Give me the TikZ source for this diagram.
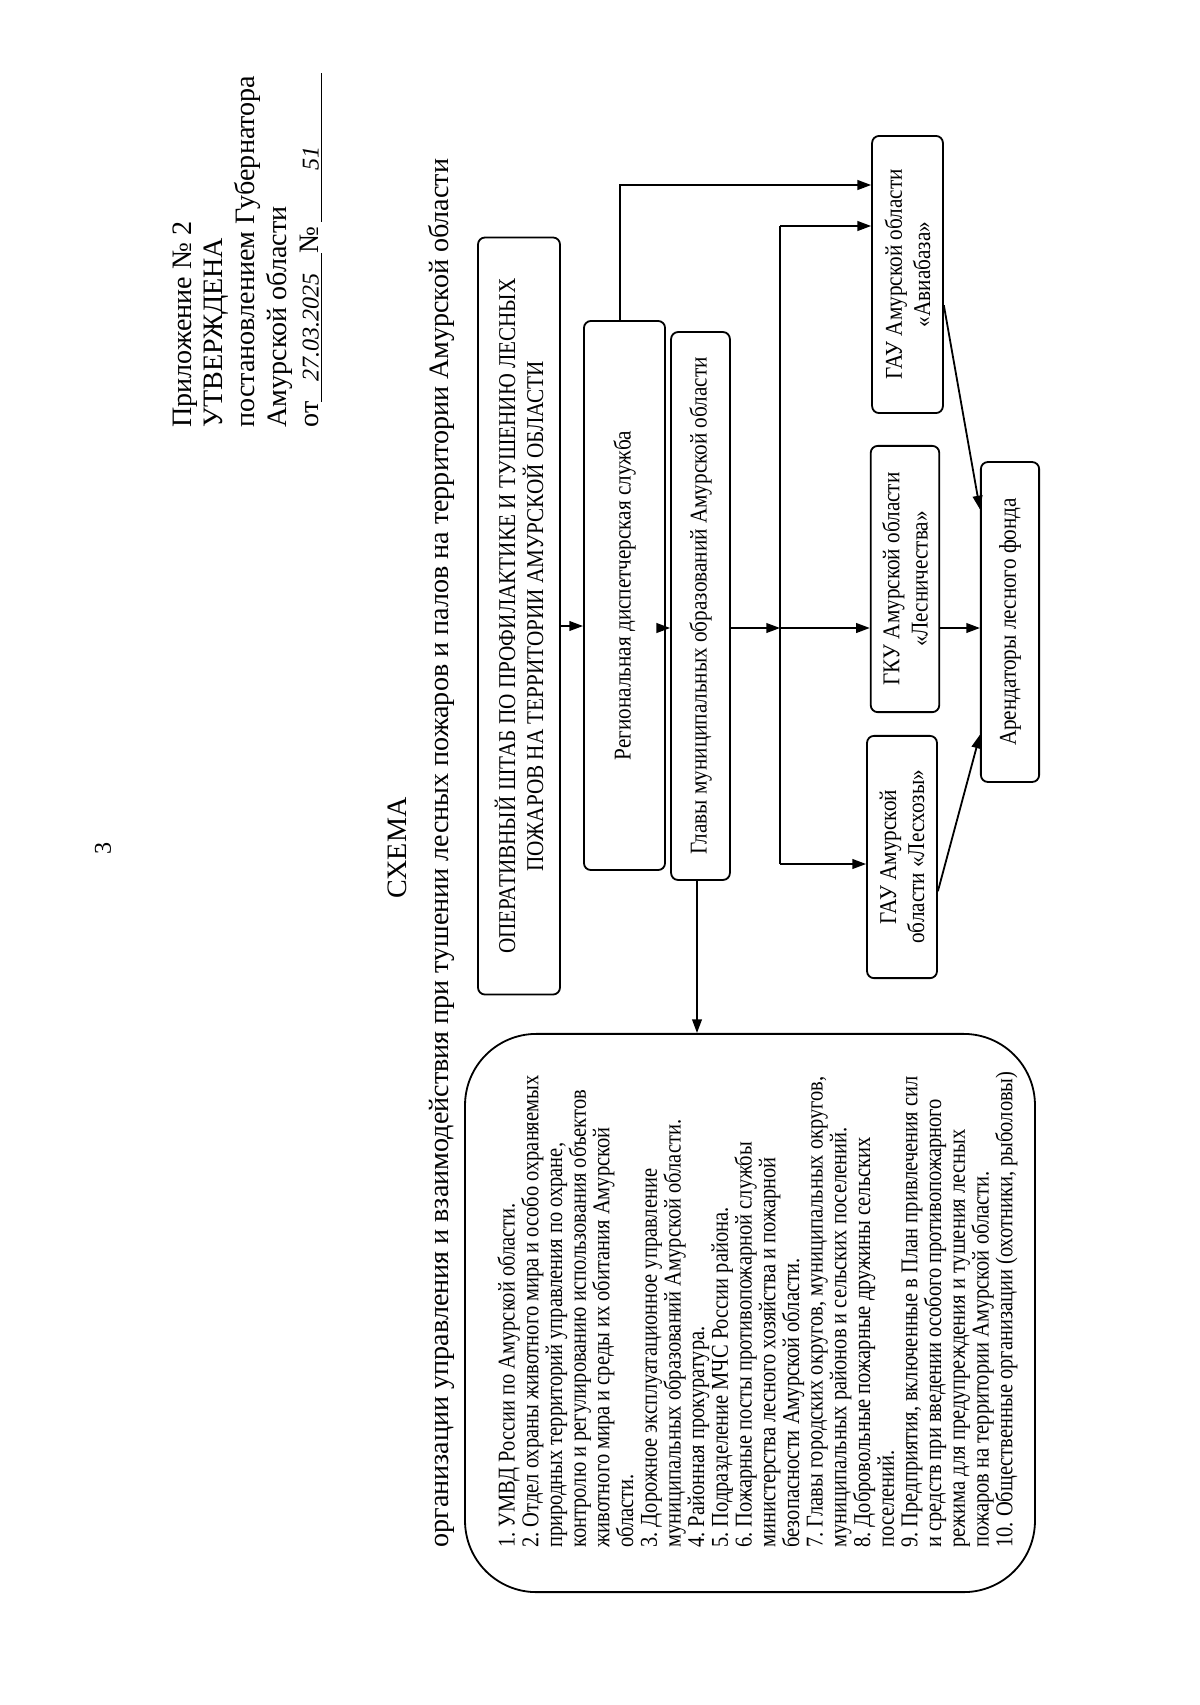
\documentclass[tikz,border=0pt]{standalone}
\usepackage{fontspec}
\setmainfont{Liberation Serif}
\newfontfamily\boxfont[FakeStretch=0.88]{Liberation Serif}
\newfontfamily\listfont[FakeStretch=0.85]{Liberation Serif}
\usetikzlibrary{arrows.meta,calc}
\frenchspacing

\begin{document}
\begin{tikzpicture}[x=0.0175cm,y=-0.0175cm,
    box/.style={draw,rounded corners=3.5pt,line width=0.9pt,rotate=90,align=center,
      inner sep=1pt,font=\boxfont\fontsize{12}{14}\selectfont},
    arr/.style={-{Triangle[length=2.4mm,width=1.7mm]},line width=0.9pt},
    wire/.style={line width=0.9pt}
  ]
  \useasboundingbox (0,0) rectangle (1200,1705);

  % page number and approval stamp
  \node[rotate=90,font=\fontsize{12}{14}\selectfont] (pnum) at (103,848) {3};
  \node[rotate=90,anchor=north west,align=left,inner sep=0pt,
    font=\fontsize{14}{15.9}\selectfont] (appr) at (172,428) {
    Приложение №~2\\
    УТВЕРЖДЕНА\\
    постановлением Губернатора\\
    Амурской области\\
    от\underline{\makebox[2.6cm]{\itshape\large 27.03.2025}}№\,\underline{\makebox[2.6cm][l]{\hspace{0.9cm}\itshape\large 51}}};

  % heading
  \node[rotate=90,font=\fontsize{14}{16}\selectfont] (schema) at (397,848) {СХЕМА};
  \node[rotate=90,font=\fontsize{14}{16}\selectfont] (title) at (441,853)
    {организации управления и взаимодействия при тушении лесных пожаров и палов на территории Амурской области};

  % boxes
  \node[box,minimum width=13.25cm,minimum height=1.435cm] (oper) at (519,616)
    {ОПЕРАТИВНЫЙ ШТАБ ПО ПРОФИЛАКТИКЕ И ТУШЕНИЮ ЛЕСНЫХ\\ПОЖАРОВ НА ТЕРРИТОРИИ АМУРСКОЙ ОБЛАСТИ};
  \node[box,minimum width=9.61cm,minimum height=1.42cm] (reg) at (624.5,595.5)
    {Региональная диспетчерская служба};
  \node[box,minimum width=9.59cm,minimum height=1.03cm] (gl) at (700.5,606)
    {Главы муниципальных образований Амурской области};
  \node[box,minimum width=4.85cm,minimum height=1.24cm] (avia) at (907.5,274.5)
    {ГАУ Амурской области\\«Авиабаза»};
  \node[box,minimum width=4.66cm,minimum height=1.2cm] (les) at (905,579)
    {ГКУ Амурской области\\«Лесничества»};
  \node[box,minimum width=4.24cm,minimum height=1.225cm] (lesh) at (902,857)
    {ГАУ Амурской\\области «Лесхозы»};
  \node[box,minimum width=5.6cm,minimum height=1.02cm] (arend) at (1010,622)
    {Арендаторы лесного фонда};
  \node[box,rounded corners=1.25cm,minimum width=9.77cm,minimum height=9.975cm] (list) at (750,1313) {};
  \node[rotate=90,anchor=north west,align=left,inner sep=0pt,
    font=\listfont\fontsize{12}{11.8}\selectfont] (items) at (497,1548) {
    1. УМВД России по Амурской области.\\
    2. Отдел охраны животного мира и особо охраняемых\\
    природных территорий управления по охране,\\
    контролю и регулированию использования объектов\\
    животного мира и среды их обитания Амурской\\
    области.\\
    3. Дорожное эксплуатационное управление\\
    муниципальных образований Амурской области.\\
    4. Районная прокуратура.\\
    5. Подразделение МЧС России района.\\
    6. Пожарные посты противопожарной службы\\
    министерства лесного хозяйства и пожарной\\
    безопасности Амурской области.\\
    7. Главы городских округов, муниципальных округов,\\
    муниципальных районов и сельских поселений.\\
    8. Добровольные пожарные дружины сельских\\
    поселений.\\
    9. Предприятия, включенные в План привлечения сил\\
    и средств при введении особого противопожарного\\
    режима для предупреждения и тушения лесных\\
    пожаров на территории Амурской области.\\
    10. Общественные организации (охотники, рыболовы)};

  % connectors
  \coordinate (r1) at (0,626);
  \coordinate (r2) at (0,628);
  \coordinate (bus) at (780,0);
  \coordinate (busT) at (780,226);
  \coordinate (busB) at (780,864);
  \coordinate (regup) at (620,185);
  \coordinate (gdown) at (697,0);

  \draw[arr] (oper.south |- r1) -- (reg.north |- r1);
  \draw[arr] (reg.south |- r2) -- (gl.north |- r2);
  \draw[arr] (gl.south |- r2) -- (bus |- r2);
  \draw[arr] (bus |- r2) -- (les.north |- r2);
  \draw[wire] (busT) -- (busB);
  \draw[arr] (busT) -- (avia.north |- busT);
  \draw[arr] (busB) -- (lesh.north |- busB);
  \draw[arr] (regup |- reg.east) -- (regup) -- (avia.north |- regup);
  \draw[arr] (gdown |- gl.west) -- (gdown |- list.east);
  \draw[arr] (les.south |- r2) -- (arend.north |- r2);
  \draw[arr] ($(avia.south)!0.22!(avia.south west)$) -- ($(arend.north)!0.7!(arend.north east)$);
  \draw[arr] ($(lesh.south)!0.28!(lesh.south west)$) -- ($(arend.north)!0.7!(arend.north west)$);
\end{tikzpicture}
\end{document}
